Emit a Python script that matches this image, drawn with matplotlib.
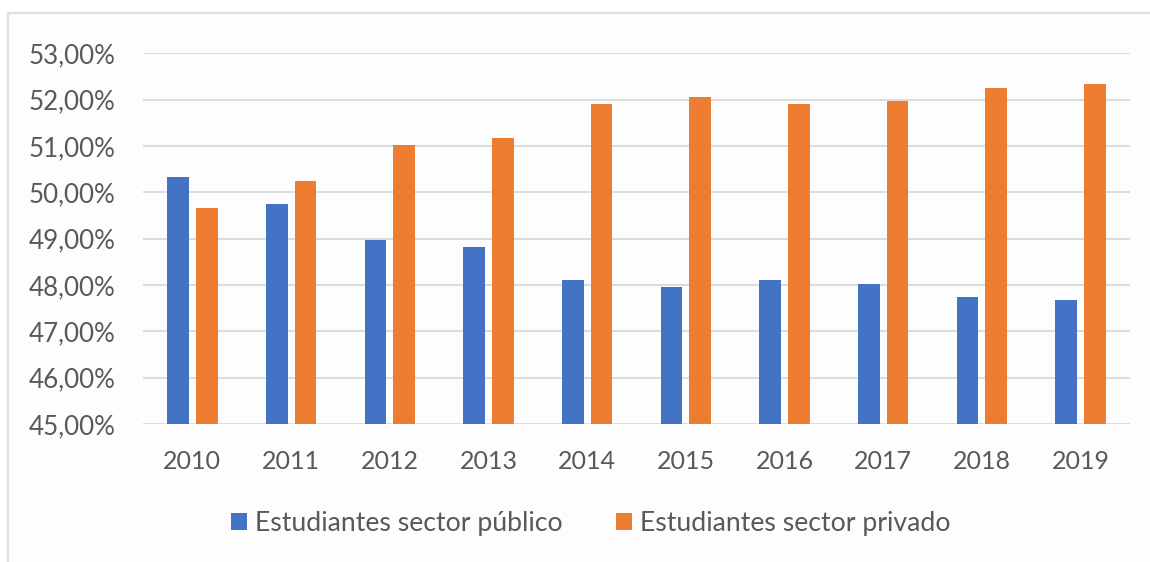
import matplotlib.pyplot as plt
import matplotlib.patches as patches
import numpy as np

# Share of students by sector, per year
years = ["2010", "2011", "2012", "2013", "2014", "2015", "2016", "2017", "2018", "2019"]
publico = [50.33, 49.75, 48.98, 48.82, 48.10, 47.95, 48.10, 48.03, 47.75, 47.67]
privado = [49.67, 50.25, 51.02, 51.18, 51.90, 52.05, 51.90, 51.97, 52.25, 52.33]
series_names = ["Estudiantes sector público", "Estudiantes sector privado"]

blue = "#4472C4"
orange = "#ED7D31"
text_color = "#595959"

plt.rcParams["font.family"] = ["Lato", "DejaVu Sans"]

fig = plt.figure(figsize=(11.5, 5.62), dpi=100)
fig.patch.set_facecolor("white")

# Chart area frame, behind everything else
frame = patches.Rectangle(
    (8 / 1150, -0.05), 1.1, 1.05 - 13 / 562,
    transform=fig.transFigure, facecolor="#fdfdfd", edgecolor="#e3dfdf",
    linewidth=1.6, zorder=-10,
)
fig.patches.append(frame)

ax = fig.add_axes([143 / 1150, 1 - 424 / 562, (1130 - 143) / 1150, (424 - 53.3) / 562])
ax.set_facecolor("none")

x = np.arange(len(years))
width = 0.22
offset = 0.145
ax.bar(x - offset, publico, width, color=blue, label=series_names[0], zorder=3)
ax.bar(x + offset, privado, width, color=orange, label=series_names[1], zorder=3)

ax.set_ylim(45, 53)
ax.set_xlim(-0.5, len(years) - 0.5)
ax.set_yticks(np.arange(45, 54, 1))
ax.set_yticklabels([f"{v:.2f}%".replace(".", ",") for v in np.arange(45, 54, 1)])
ax.set_xticks(x)
ax.set_xticklabels(years)

ax.grid(axis="y", color="#d9d9d9", linewidth=1.3, zorder=0)
for s in ax.spines.values():
    s.set_visible(False)
ax.tick_params(axis="both", length=0, colors=text_color)
ax.tick_params(axis="y", pad=20, labelsize=18.7)
ax.tick_params(axis="x", pad=19, labelsize=18)

leg = fig.legend(
    loc="center", bbox_to_anchor=(591 / 1150, 1 - 523 / 562), ncol=2,
    frameon=False, fontsize=19.2, handlelength=0.6, handleheight=0.6,
    handletextpad=0.3, columnspacing=2.0,
)
for t in leg.get_texts():
    t.set_color(text_color)

fig.savefig("out.png", dpi=100, facecolor=fig.get_facecolor())
